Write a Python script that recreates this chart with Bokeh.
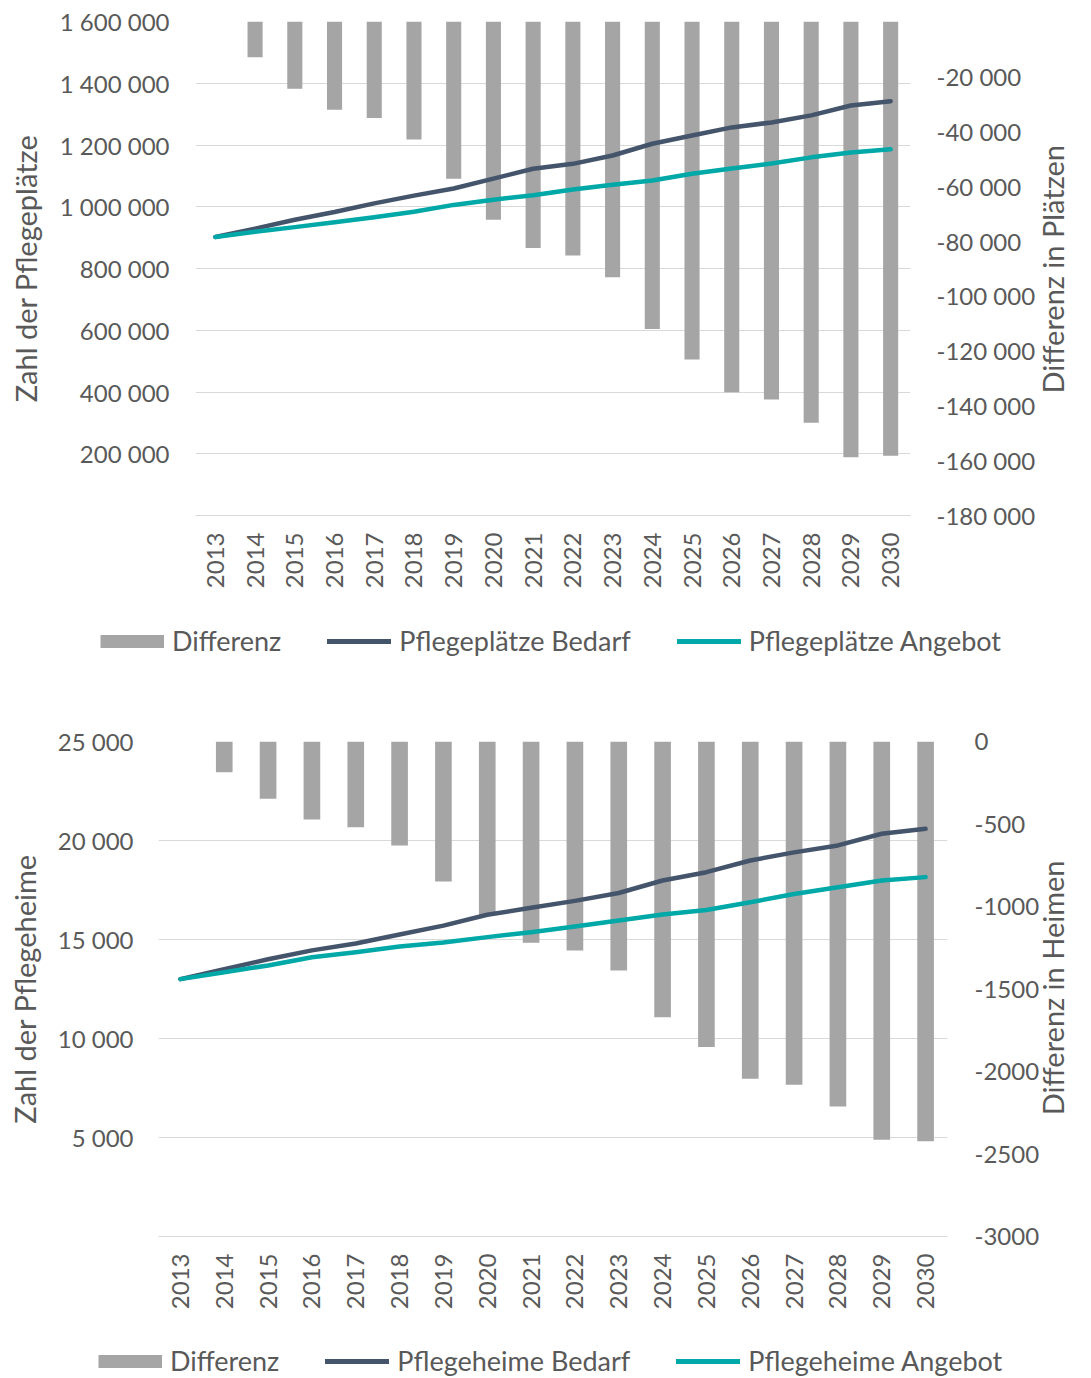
import math
from bokeh.plotting import figure
from bokeh.models import (Range1d, LinearAxis, FixedTicker, Legend, LegendItem,
                          FactorRange, ColumnDataSource)
from bokeh.embed import file_html
from bokeh.resources import INLINE

# ---------------- data ----------------
years = ["2013", "2014", "2015", "2016", "2017", "2018", "2019", "2020", "2021",
         "2022", "2023", "2024", "2025", "2026", "2027", "2028", "2029", "2030"]

plaetze_bedarf = [902000, 929000, 958000, 983000, 1011000, 1036000, 1059000, 1091000,
                  1123000, 1139000, 1166000, 1204000, 1231000, 1257000, 1273000,
                  1296000, 1328000, 1342000]
plaetze_angebot = [902000, 919000, 934000, 950000, 966000, 984000, 1006000, 1023000,
                   1037000, 1056000, 1071000, 1085000, 1107000, 1124000, 1140000,
                   1160000, 1176000, 1186000]
plaetze_diff = [0, -13000, -24500, -32200, -35200, -43000, -57300, -72200, -82500,
                -85300, -93200, -112000, -123200, -135100, -137700, -146200,
                -158800, -158200]

heime_bedarf = [13000, 13500, 14000, 14450, 14800, 15250, 15700, 16250, 16600,
                16950, 17350, 17980, 18400, 18990, 19400, 19750, 20340, 20590]
heime_angebot = [13000, 13350, 13690, 14100, 14360, 14650, 14850, 15120, 15370,
                 15660, 15960, 16260, 16490, 16880, 17300, 17640, 17980, 18150]
heime_diff = [0, -186, -347, -473, -519, -630, -848, -1050, -1220, -1267, -1388,
              -1671, -1852, -2044, -2080, -2212, -2414, -2422]

plaetze_left_ticks = [200000, 400000, 600000, 800000, 1000000, 1200000, 1400000, 1600000]
plaetze_right_ticks = [-20000, -40000, -60000, -80000, -100000, -120000, -140000,
                       -160000, -180000]
heime_left_ticks = [5000, 10000, 15000, 20000, 25000]
heime_right_ticks = [0, -500, -1000, -1500, -2000, -2500, -3000]

# ---------------- styling ----------------
TXT = "#595959"
GRID = "#D9D9D9"
BAR = "#A5A5A5"
C_BEDARF = "#44546A"
C_ANGEBOT = "#00A8A8"
FONT = "Lato"


def spaced(v):
    return f"{v:,}".replace(",", " ")


def style_axis(ax):
    ax.axis_line_color = None
    ax.major_tick_line_color = None
    ax.minor_tick_line_color = None
    ax.major_label_text_font = FONT
    ax.major_label_text_font_size = "24px"
    ax.major_label_text_color = TXT
    ax.axis_label_text_font = FONT
    ax.axis_label_text_font_size = "29px"
    ax.axis_label_text_font_style = "normal"
    ax.axis_label_text_color = TXT


def make_chart(height, borders, left_max, right_min, bedarf, angebot, diff,
               left_ticks, right_ticks, left_fmt, right_fmt, left_title, right_title,
               standoffs, title_start):
    bl, br, bt, bb = borders
    p = figure(width=1091, height=height, x_range=FactorRange(factors=years),
               y_range=Range1d(0, left_max), output_backend="svg",
               toolbar_location=None, min_border_left=bl, min_border_right=br,
               min_border_top=bt, min_border_bottom=bb)
    p.extra_y_ranges = {"diff": Range1d(right_min, 0), "title": Range1d(0, 1000)}
    p.outline_line_color = None
    p.xgrid.grid_line_color = None
    p.ygrid.grid_line_color = GRID
    p.ygrid.grid_line_width = 1

    src = ColumnDataSource(dict(x=years, bedarf=bedarf, angebot=angebot, diff=diff))
    p.vbar(x="x", top=0, bottom="diff", width=0.38, source=src,
           y_range_name="diff", fill_color=BAR, line_color=None)
    p.line(x="x", y="bedarf", source=src, line_color=C_BEDARF, line_width=4.5,
           line_cap="round", line_join="round")
    p.line(x="x", y="angebot", source=src, line_color=C_ANGEBOT, line_width=4.5,
           line_cap="round", line_join="round")

    ly = p.yaxis[0]
    style_axis(ly)
    ly.ticker = FixedTicker(ticks=left_ticks)
    ly.major_label_overrides = {t: left_fmt(t) for t in left_ticks}
    ly.major_label_standoff = standoffs[0]
    ly.axis_label = left_title
    ly.axis_label_standoff = standoffs[1]

    ry = LinearAxis(y_range_name="diff", ticker=FixedTicker(ticks=right_ticks),
                    major_label_overrides={t: right_fmt(t) for t in right_ticks})
    style_axis(ry)
    ry.major_tick_out = 0
    ry.major_tick_in = 0
    ry.major_label_standoff = standoffs[2]
    p.add_layout(ry, "right")

    # right-hand title, reading bottom-to-top like the left one
    ta = LinearAxis(y_range_name="title", ticker=FixedTicker(ticks=[title_start]),
                    major_label_overrides={title_start: right_title})
    style_axis(ta)
    ta.major_tick_out = 0
    ta.major_tick_in = 0
    ta.major_label_orientation = math.pi / 2
    ta.major_label_text_font_size = "29px"
    ta.major_label_standoff = standoffs[3]
    p.add_layout(ta, "right")

    xa = p.xaxis[0]
    xa.axis_line_color = GRID
    xa.major_tick_line_color = None
    xa.minor_tick_line_color = None
    xa.major_label_orientation = math.pi / 2
    xa.major_label_text_font = FONT
    xa.major_label_text_font_size = "24px"
    xa.major_label_text_color = TXT
    xa.major_label_standoff = standoffs[4]
    return p


def make_legend(height, lbl_bedarf, lbl_angebot, loc):
    q = figure(width=1091, height=height, x_range=Range1d(0, 1), y_range=Range1d(0, 1),
               x_axis_type=None, y_axis_type=None, output_backend="svg",
               toolbar_location=None, min_border_left=0, min_border_right=0,
               min_border_top=0, min_border_bottom=0)
    q.outline_line_color = None
    q.grid.visible = False
    # off-screen proxies: they only supply the legend swatches
    b = q.line(x=[-10, -9], y=[-10, -10], line_color=BAR, line_width=13,
               line_cap="butt")
    l1 = q.line(x=[-10, -9], y=[-10, -10], line_color=C_BEDARF, line_width=5,
                line_cap="round")
    l2 = q.line(x=[-10, -9], y=[-10, -10], line_color=C_ANGEBOT, line_width=5,
                line_cap="round")
    legend = Legend(items=[LegendItem(label="Differenz", renderers=[b]),
                           LegendItem(label=lbl_bedarf, renderers=[l1]),
                           LegendItem(label=lbl_angebot, renderers=[l2])],
                    location=loc, orientation="horizontal",
                    glyph_width=64, glyph_height=14, label_standoff=8, spacing=46,
                    padding=0, margin=0, border_line_color=None,
                    background_fill_alpha=0, label_text_font=FONT,
                    label_text_font_size="27px", label_text_color=TXT)
    q.add_layout(legend)
    return q


top = make_chart(610, (195, 181, 21, 95), 1600000, -180000,
                 plaetze_bedarf, plaetze_angebot, plaetze_diff,
                 plaetze_left_ticks, plaetze_right_ticks, spaced, spaced,
                 "Zahl der Pflegeplätze", "Differenz in Plätzen",
                 (20, 14, 26, 14, 11), 247)
top_leg = make_legend(78, "Pflegeplätze Bedarf", "Pflegeplätze Angebot", (100, 31))

bottom = make_chart(642, (158, 144, 53, 94), 25000, -3000,
                    heime_bedarf, heime_angebot, heime_diff,
                    heime_left_ticks, heime_right_ticks, spaced, str,
                    "Zahl der Pflegeheime", "Differenz in Heimen",
                    (19, 13, 27, 10, 11), 245)
bottom_leg = make_legend(48, "Pflegeheime Bedarf", "Pflegeheime Angebot", (98, 1))

open("out.html", "w").write(file_html([top, top_leg, bottom, bottom_leg], INLINE))
